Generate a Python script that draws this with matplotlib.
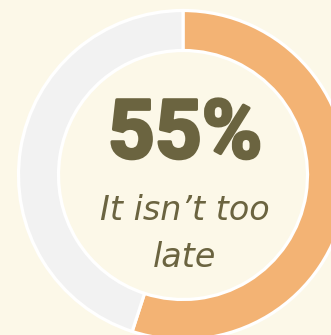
import matplotlib.pyplot as plt
import matplotlib.patheffects as pe

# share of respondents
labels = ["It isn't too late", "Too late"]
shares = [55, 45]
headline = "55%"
caption = "It isn\u2019t too\nlate"

bg = "#fcf8e8"
ring_colors = ["#f3b374", "#f2f2f2"]
ink = "#6b6440"

W, H = 331, 335
fig = plt.figure(figsize=(W / 100, H / 100), dpi=100, facecolor=bg)
ax = fig.add_axes([0, 0, 1, 1])
ax.set_facecolor(bg)

cx, cy = 183, H - 175
ax.pie(shares, colors=ring_colors, startangle=90, counterclock=False,
       center=(cx, cy), radius=164.5,
       wedgeprops=dict(width=40, edgecolor="white", linewidth=2.3))

# heavy headline number, thickened with a stroke in the same colour
ax.text(cx + 2, H - 136, headline, ha="center", va="center",
        fontsize=59, fontweight="bold", family="Roboto", color=ink,
        path_effects=[pe.withStroke(linewidth=2.2, foreground=ink)])
ax.text(cx + 2, H - 234, caption, ha="center", va="center",
        fontsize=24, style="italic", family="DejaVu Sans", color=ink,
        linespacing=1.52)

ax.set_xlim(0, W)
ax.set_ylim(0, H)
ax.set_aspect("equal")
ax.axis("off")

fig.savefig("out.png", dpi=100, facecolor=bg)
